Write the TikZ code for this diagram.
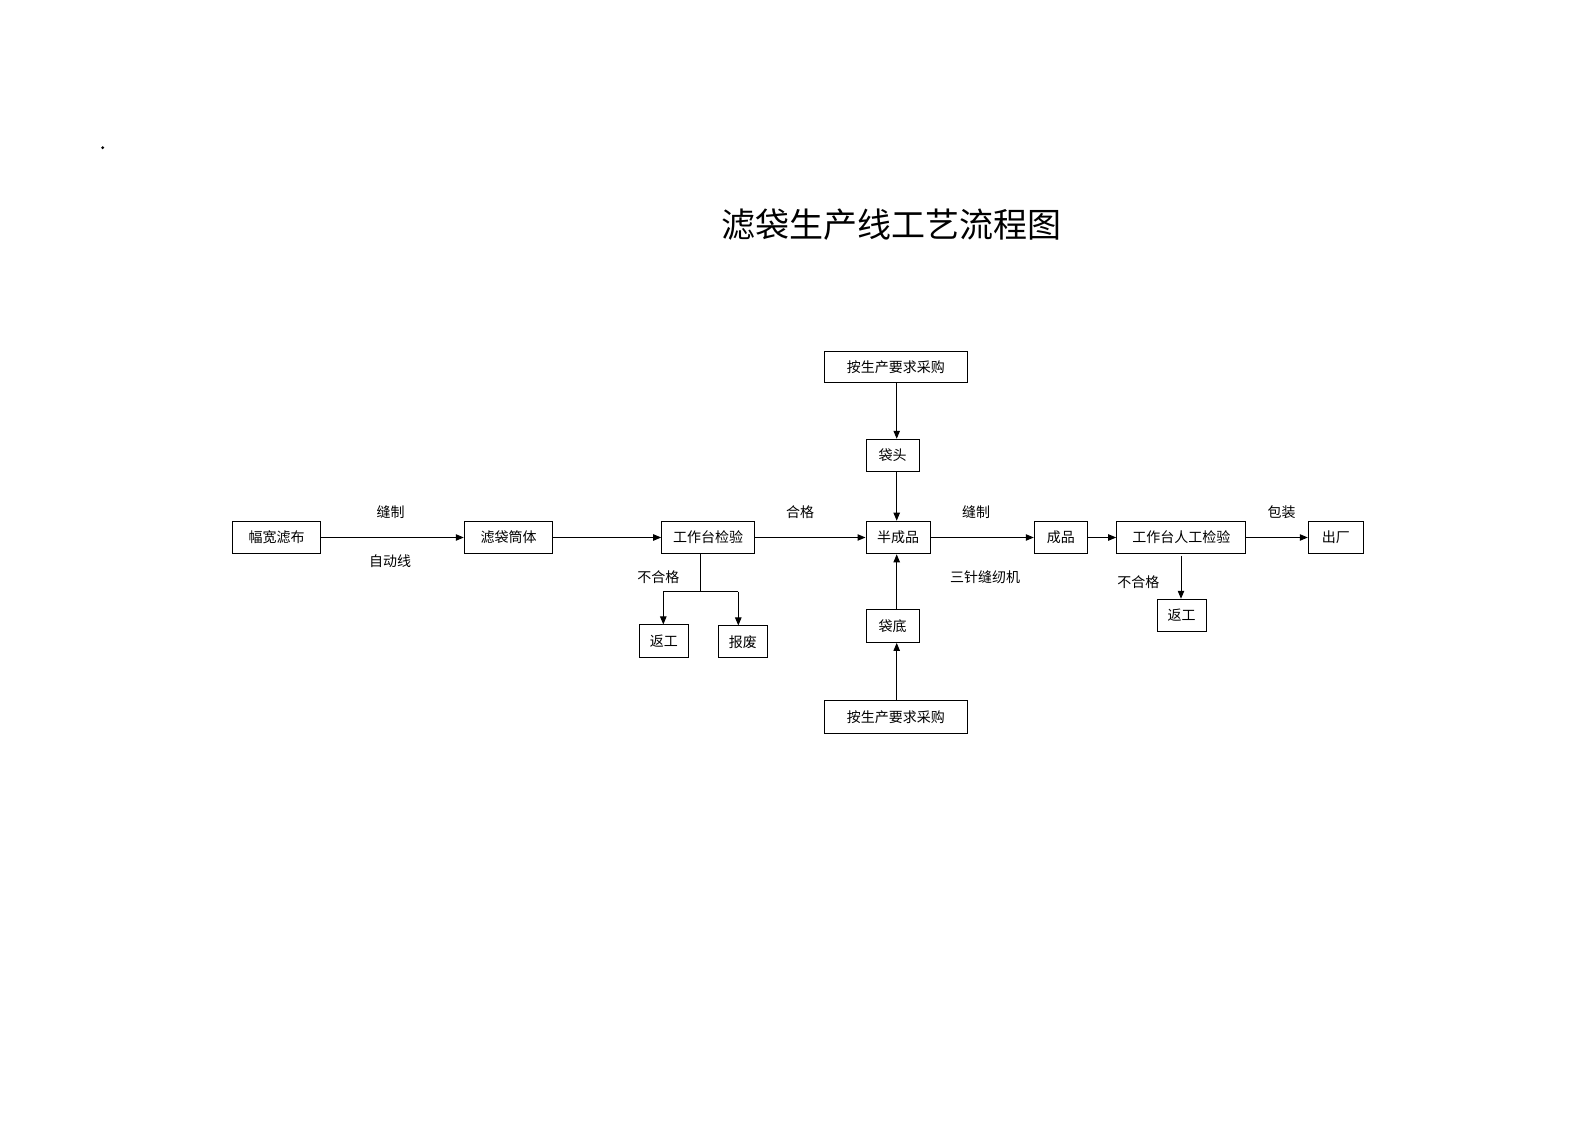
\documentclass[tikz,border=0pt]{standalone}
\usepackage{fontspec}
\setmainfont{Noto Sans CJK SC}
\usetikzlibrary{arrows.meta}
\begin{document}
\begin{tikzpicture}[x=0.5pt,y=-0.5pt,
  box/.style={draw,line width=0.5pt,inner sep=0pt,font=\fontsize{7}{8}\selectfont},
  lbl/.style={inner sep=0pt,font=\fontsize{7}{8}\selectfont},
  arr/.style={line width=0.5pt,-{Triangle[length=4pt,width=3.2pt]}},
  ln/.style={line width=0.5pt}]
\useasboundingbox (0,0) rectangle (1587,1122);
\fill (102.7,147.7) circle (1.6);
\node[inner sep=0pt,font=\fontsize{17}{20}\selectfont] (title) at (891,225) {滤袋生产线工艺流程图};
% nodes
\node[box,minimum width=44.2pt,minimum height=15.8pt] (fk) at (276.5,537.5) {幅宽滤布};
\node[box,minimum width=44.2pt,minimum height=15.8pt] (tt) at (508.5,537.5) {滤袋筒体};
\node[box,minimum width=46.3pt,minimum height=15.8pt] (jy) at (708,537.5) {工作台检验};
\node[box,minimum width=32pt,minimum height=16.3pt] (bcp) at (898,537.5) {半成品};
\node[box,minimum width=71.8pt,minimum height=15.5pt] (top) at (895.8,367.2) {按生产要求采购};
\node[box,minimum width=26.7pt,minimum height=15.9pt] (dt) at (892.7,455.2) {袋头};
\node[box,minimum width=26.7pt,minimum height=16.2pt] (dd) at (892.7,626.2) {袋底};
\node[box,minimum width=71.5pt,minimum height=16.2pt] (bot) at (895.8,717.2) {按生产要求采购};
\node[box,minimum width=26.5pt,minimum height=15.8pt] (cp) at (1060.8,537.5) {成品};
\node[box,minimum width=64.6pt,minimum height=15.8pt] (rg) at (1181.3,537.5) {工作台人工检验};
\node[box,minimum width=27.5pt,minimum height=15.8pt] (cc) at (1335.8,537.5) {出厂};
\node[box,minimum width=24.5pt,minimum height=16.2pt] (fg1) at (663.8,641.2) {返工};
\node[box,minimum width=24.5pt,minimum height=16pt] (bf) at (742.8,642) {报废};
\node[box,minimum width=24.4pt,minimum height=16.2pt] (fg2) at (1181.7,615.5) {返工};
% labels
\node[lbl] (l1) at (390.7,511.7) {缝制};
\node[lbl] (l2) at (390,561) {自动线};
\node[lbl] (l3) at (800,511.7) {合格};
\node[lbl] (l4) at (976,511.7) {缝制};
\node[lbl] (l5) at (985,577) {三针缝纫机};
\node[lbl] (l6) at (1281.7,511.7) {包装};
\node[lbl] (l7) at (658.3,576.7) {不合格};
\node[lbl] (l8) at (1138.3,581.7) {不合格};
% connectors
\draw[arr] (fk) -- (tt);
\draw[arr] (tt) -- (jy);
\draw[arr] (jy) -- (bcp);
\coordinate (col) at (896.7,0);
\draw[arr] (top.south -| col) -- (dt.north -| col);
\draw[arr] (dt.south -| col) -- (bcp.north -| col);
\draw[arr] (dd.north -| col) -- (bcp.south -| col);
\draw[arr] (bot.north -| col) -- (dd.south -| col);
\draw[arr] (bcp) -- (cp);
\draw[arr] (cp) -- (rg);
\draw[arr] (rg) -- (cc);
\coordinate (rgb) at (1181,556);
\draw[arr] (rgb) -- (rgb |- fg2.north);
\coordinate (j1) at (700.3,553.3);
\coordinate (j2) at (700.3,591.7);
\coordinate (ja) at (663.3,591.7);
\coordinate (jb) at (738.3,591.7);
\draw[ln] (j1) -- (j2);
\draw[ln] (ja) -- (jb);
\draw[arr] (ja) -- (ja |- fg1.north);
\draw[arr] (jb) -- (jb |- bf.north);
\end{tikzpicture}
\end{document}
